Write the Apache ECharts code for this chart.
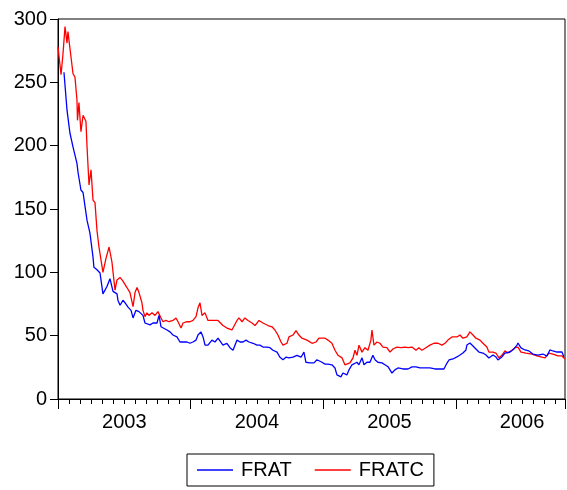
<!DOCTYPE html>
<html>
<head>
<meta charset="utf-8">
<script src="https://cdn.jsdelivr.net/npm/echarts@6/dist/echarts.min.js"></script>
<style>html,body{margin:0;padding:0;background:#fff;}#c{width:567px;height:490px;}</style>
</head>
<body>
<div id="c"></div>
<script>
// Dates as decimal years
var fratcDates = [2003.000,2003.023,2003.038,2003.053,2003.068,2003.075,2003.098,2003.113,2003.128,2003.143,2003.147,2003.158,2003.173,2003.189,2003.211,2003.219,2003.234,2003.249,2003.264,2003.279,2003.294,2003.309,2003.339,2003.362,2003.385,2003.407,2003.430,2003.445,2003.468,2003.490,2003.520,2003.543,2003.566,2003.581,2003.596,2003.611,2003.633,2003.641,2003.656,2003.671,2003.686,2003.709,2003.732,2003.754,2003.777,2003.792,2003.814,2003.837,2003.867,2003.890,2003.905,2003.928,2003.943,2003.973,2003.995,2004.018,2004.041,2004.056,2004.071,2004.086,2004.109,2004.131,2004.161,2004.184,2004.207,2004.244,2004.274,2004.312,2004.320,2004.350,2004.365,2004.388,2004.410,2004.433,2004.463,2004.486,2004.516,2004.546,2004.584,2004.614,2004.636,2004.659,2004.682,2004.697,2004.727,2004.742,2004.772,2004.795,2004.817,2004.840,2004.878,2004.916,2004.946,2004.968,2005.014,2005.036,2005.066,2005.089,2005.112,2005.142,2005.164,2005.179,2005.202,2005.225,2005.240,2005.255,2005.270,2005.293,2005.315,2005.338,2005.360,2005.368,2005.383,2005.406,2005.428,2005.451,2005.481,2005.504,2005.526,2005.557,2005.587,2005.617,2005.640,2005.670,2005.700,2005.722,2005.745,2005.775,2005.805,2005.836,2005.866,2005.896,2005.919,2005.941,2005.971,2006.009,2006.032,2006.054,2006.069,2006.084,2006.107,2006.130,2006.152,2006.183,2006.205,2006.235,2006.250,2006.281,2006.303,2006.326,2006.348,2006.371,2006.394,2006.424,2006.446,2006.469,2006.492,2006.529,2006.575,2006.612,2006.650,2006.673,2006.703,2006.733,2006.771,2006.801,2006.824];
var fratcValues = [278,256,273,294,281,290,270,257,254,236,220,234,211,224,219,199,169,181,157,155,133,120,100,111,120,108,86,94,96,93,88,84,73,84,88,84,76,70,65,68,66,68,66,69,64,61,62,61,62,64,61,56,60,61,61,62,65,72,76,66,68,62,62,62,62,58,56,54.5,56,62,64,61,64,62,60,58,62,60,58,57,54.5,50.5,45,42.5,44,49,50.5,54,50.5,48,46.5,44,45,48,48,46.5,44,38.5,34.5,32.5,27,25.5,28.5,32.5,38.5,34.5,42.5,37,40.5,38.5,46.5,54.5,42.5,45,44,41,40.5,37,39.5,41,40.5,41,40.5,41,38.5,40.5,38.5,40.5,42.5,44,44,42.5,44,46.5,49,49,50.5,48,46.5,49,53,50.5,48,46.5,44,41,37,37,36.3,32.5,34.5,38,36.3,38.5,40.5,41,37,36.3,35.5,34,33,32.5,36.3,35.5,34,34,31.5];

var fratDates = [2003.045,2003.068,2003.090,2003.113,2003.143,2003.151,2003.173,2003.189,2003.219,2003.241,2003.264,2003.271,2003.294,2003.317,2003.339,2003.370,2003.392,2003.415,2003.445,2003.452,2003.468,2003.490,2003.505,2003.528,2003.551,2003.566,2003.588,2003.611,2003.641,2003.656,2003.671,2003.694,2003.716,2003.747,2003.762,2003.777,2003.792,2003.822,2003.845,2003.867,2003.897,2003.920,2003.943,2003.973,2003.995,2004.018,2004.041,2004.056,2004.078,2004.094,2004.109,2004.131,2004.161,2004.184,2004.207,2004.244,2004.274,2004.297,2004.320,2004.335,2004.350,2004.373,2004.395,2004.418,2004.440,2004.471,2004.501,2004.523,2004.546,2004.576,2004.599,2004.621,2004.652,2004.674,2004.697,2004.719,2004.742,2004.772,2004.802,2004.833,2004.855,2004.870,2004.900,2004.931,2004.953,2004.991,2005.014,2005.036,2005.066,2005.089,2005.104,2005.134,2005.149,2005.179,2005.195,2005.217,2005.232,2005.255,2005.270,2005.293,2005.308,2005.330,2005.353,2005.375,2005.391,2005.413,2005.443,2005.466,2005.489,2005.519,2005.541,2005.564,2005.602,2005.640,2005.670,2005.700,2005.730,2005.768,2005.805,2005.843,2005.881,2005.911,2005.934,2005.949,2005.979,2006.009,2006.032,2006.054,2006.077,2006.084,2006.107,2006.130,2006.152,2006.175,2006.205,2006.228,2006.250,2006.281,2006.303,2006.318,2006.348,2006.371,2006.409,2006.439,2006.462,2006.469,2006.492,2006.522,2006.552,2006.582,2006.620,2006.658,2006.688,2006.710,2006.733,2006.763,2006.801,2006.816];
var fratValues = [258,228,210,199,186,179,165,163,141,131,112,104,102,99.5,83,89,95,85,83,78,74,78,76,72.5,70,64,70,69,66,60,61,58.5,60,60,66,57,56,54.5,53,50.5,49,45,45,45,44,45,46.5,50.5,53,49,42.5,42.5,46.5,45,48,42.5,44,40.5,38.5,42.5,46.5,45,45,46.5,45,44,42.5,42.5,41,41,40.5,38.5,37,33,31,33,32.5,33,34.5,33,37,29,28.5,28.5,31,29,27.5,27.5,27,24.5,19,17.5,20.5,19,23,27,25.5,29,27,32.5,27,29,29,34.5,31,29,28.5,27,25.5,20.5,23,24.5,23.7,23.7,25.3,25.3,24.5,24.5,24.5,23.7,23.7,23.7,28.4,30.8,31.6,33.2,34.7,36.3,38.7,42.6,44.2,41.8,39.5,37.1,36.3,34.7,32.4,34.7,33.2,30.8,33.2,36.3,37.1,39.5,42.6,44.2,40.3,38.7,37.9,35.5,34.7,35.5,33.9,38.7,37.9,37.1,37.1,33.2];

var startYear = 2003;
var endDate = 2006.824;
var yearLabels = ['2003','2004','2005','2006'];
var seriesNames = ['FRAT','FRATC'];

function toMonths(d){ return (d - startYear) * 12; }
function pairs(ds, vs){ return ds.map(function(d,i){ return [toMonths(d), vs[i]]; }); }

var font = 'Arial, "Liberation Sans", sans-serif';
var chart = echarts.init(document.getElementById('c'), null, {renderer:'canvas'});
var maxM = toMonths(endDate);

chart.setOption({
  animation: false,
  backgroundColor: '#fff',
  grid: {left: 58, right: 2, top: 19, bottom: 91, show: true, borderColor: '#000', borderWidth: 1, backgroundColor: 'transparent'},
  legend: {
    left: 187, top: 454,
    data: seriesNames,
    icon: 'rect', itemWidth: 36, itemHeight: 1.5, itemGap: 23,
    borderColor: '#000', borderWidth: 1,
    padding: [6, 10, 6, 10],
    textStyle: {fontFamily: font, fontSize: 20, color: '#000', padding: [0,0,0,3]}
  },
  xAxis: [{
    type: 'value', min: 0, max: maxM, interval: 1,
    axisLine: {show: true, lineStyle: {color: '#000', width: 1}},
    axisTick: {show: true, length: 5, lineStyle: {color: '#000', width: 1}},
    splitLine: {show: false},
    axisLabel: {
      show: true, margin: 13, fontFamily: font, fontSize: 20, color: '#000',
      showMinLabel: true, showMaxLabel: false,
      formatter: function(v){ var r = Math.round(v); if (Math.abs(v - r) < 1e-6 && r % 12 === 6) return yearLabels[(r - 6) / 12] || ''; return ''; }
    }
  }, {
    type: 'value', min: 0, max: maxM, interval: 12, position: 'bottom',
    axisLine: {show: false},
    axisTick: {show: true, length: 10, lineStyle: {color: '#000', width: 1}},
    axisLabel: {show: false}, splitLine: {show: false}
  }],
  yAxis: {
    type: 'value', min: 0, max: 300, interval: 50,
    axisLine: {show: true, lineStyle: {color: '#000', width: 1}},
    axisTick: {show: true, length: 8, lineStyle: {color: '#000', width: 1}},
    splitLine: {show: false},
    axisLabel: {margin: 11, fontFamily: font, fontSize: 20, color: '#000'}
  },
  series: [{
    name: seriesNames[0], type: 'line', xAxisIndex: 0, data: pairs(fratDates, fratValues),
    showSymbol: false, symbol: 'none', lineStyle: {color: '#0000ff', width: 1.3}, itemStyle: {color: '#0000ff'}, z: 3
  }, {
    name: seriesNames[1], type: 'line', xAxisIndex: 0, data: pairs(fratcDates, fratcValues),
    showSymbol: false, symbol: 'none', lineStyle: {color: '#ff0000', width: 1.3}, itemStyle: {color: '#ff0000'}, z: 2
  }]
});
</script>
</body>
</html>
